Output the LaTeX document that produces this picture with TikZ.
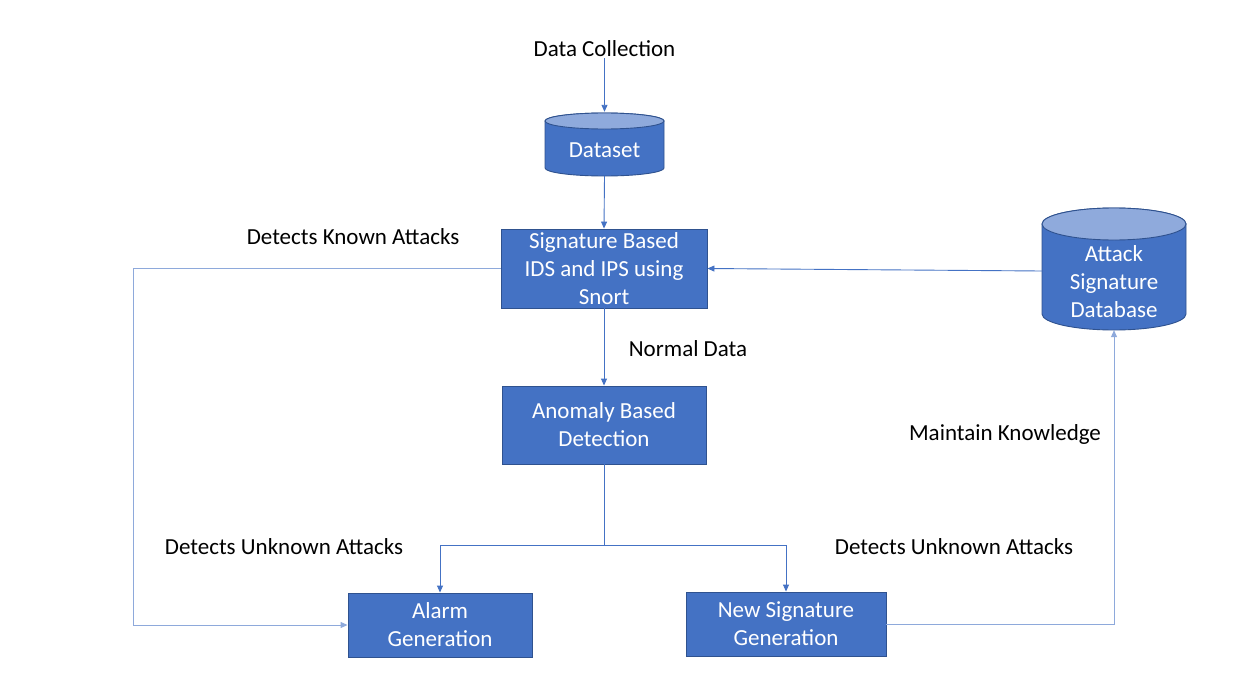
\documentclass[tikz,border=0pt]{standalone}
\usepackage{fontspec}
\setmainfont{Carlito}
\usetikzlibrary{arrows.meta}
\definecolor{boxblue}{HTML}{4472C4}
\definecolor{boxedge}{HTML}{2F528F}
\definecolor{toplight}{HTML}{8FAADC}
\definecolor{linelight}{HTML}{8EA9DB}
\tikzset{
  every node/.style={font=\fontsize{23}{28}\selectfont},
  procbox/.style={draw=boxedge, fill=boxblue, line width=0.9pt, text=white, align=center, inner sep=0pt},
  lbl/.style={text=black, inner sep=1pt},
  wlbl/.style={text=white, align=center, inner sep=0pt},
  ghost/.style={inner sep=0pt, draw=none},
  conn/.style={draw=boxblue, line width=0.9pt, -{Triangle[length=7pt,width=6pt]}},
  connl/.style={draw=linelight, line width=1pt, -{Triangle[length=7pt,width=6pt]}},
  plain/.style={draw=boxblue, line width=0.9pt},
  cylbody/.style={fill=boxblue, draw=boxedge, line width=0.9pt},
  cyltop/.style={fill=toplight, draw=boxedge, line width=0.9pt}
}
\begin{document}
\begin{tikzpicture}[x=1pt,y=-1pt]
\useasboundingbox[fill=white] (0,0) rectangle (1233,693);

% Dataset cylinder
\node[ghost, minimum width=119pt, minimum height=64pt] (ds) at (604.5,144) {};
\path[cylbody] (545,121) -- (545,168) arc[start angle=180,end angle=360,x radius=59.5pt,y radius=8pt] -- (664,121) arc[start angle=0,end angle=180,x radius=59.5pt,y radius=8pt] -- cycle;
\path[cyltop] (604.5,121) ellipse [x radius=59.5pt, y radius=8pt];
\node[wlbl] (dslbl) at (604.5,150) {Dataset};

% Attack signature database cylinder
\node[ghost, minimum width=144pt, minimum height=122pt] (db) at (1114,269) {};
\path[cylbody] (1042,224) -- (1042,314) arc[start angle=180,end angle=360,x radius=72pt,y radius=16pt] -- (1186,224) arc[start angle=0,end angle=180,x radius=72pt,y radius=16pt] -- cycle;
\path[cyltop] (1114,224) ellipse [x radius=72pt, y radius=16pt];
\node[wlbl] (dblbl) at (1114,282) {Attack\\Signature\\Database};

% Process boxes
\node[procbox, minimum width=206pt, minimum height=79pt] (sig) at (604,268.5) {Signature Based\\IDS and IPS using\\Snort};
\node[procbox, minimum width=204pt, minimum height=78pt] (anom) at (604,425) {Anomaly Based\\Detection};
\node[procbox, minimum width=184pt, minimum height=64pt] (alarm) at (440,625) {Alarm\\Generation};
\node[procbox, minimum width=200pt, minimum height=64pt] (newsig) at (786,624) {New Signature\\Generation};

% Labels
\node[lbl] (dc) at (604.5,49) {Data Collection};
\node[lbl] (known) at (353,237) {Detects Known Attacks};
\node[lbl] (normal) at (688,349) {Normal Data};
\node[lbl] (unk1) at (284,547) {Detects Unknown Attacks};
\node[lbl] (unk2) at (954,547) {Detects Unknown Attacks};
\node[lbl] (maint) at (1005,434) {Maintain Knowledge};

% Helper coordinates
\coordinate (split) at (604,545);
\coordinate (lc) at (133,268.5);

% Connectors
\draw[conn] (dc.south) -- (ds.north);
\draw[conn] (ds.south) -- (sig.north);
\draw[conn] (sig.south) -- (anom.north);
\draw[plain] (anom.south) -- (split);
\draw[conn] (split) -| (alarm.north);
\draw[conn] (split) -| (newsig.north);
\draw[connl] (sig.west) -- (lc) |- (alarm.west);
\draw[connl] (newsig.east) -| (db.south);
\draw[conn] ([yshift=-2pt]db.west) -- (sig.east);
\end{tikzpicture}
\end{document}
